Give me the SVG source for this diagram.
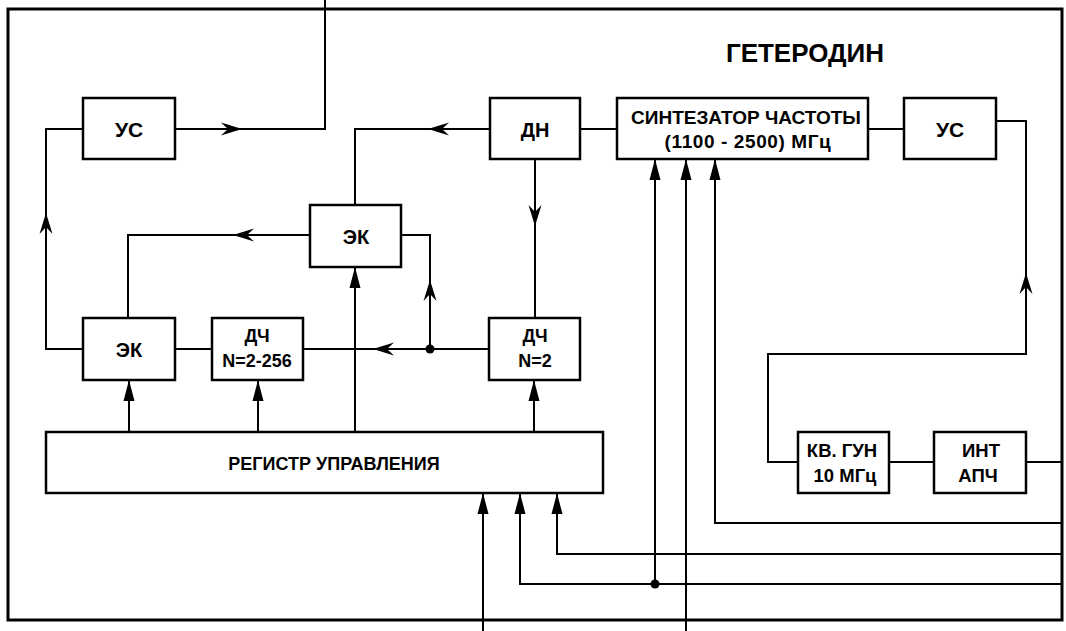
<svg xmlns="http://www.w3.org/2000/svg" width="1066" height="631" viewBox="0 0 1066 631">
<style>
.frame{fill:none;stroke:#000;stroke-width:3}
.box{fill:#fff;stroke:#000;stroke-width:2.5}
.ln{fill:none;stroke:#000;stroke-width:2}
.t{font-family:"Liberation Sans",Arial,sans-serif;font-weight:bold;fill:#000;text-anchor:middle}
.a{fill:#000}
</style>
<defs>
<path id="chev" d="M0,0 L-21,-6.5 L-14,0 L-21,6.5 Z"/>
<path id="tri" d="M0,0 L-21,-5.5 L-21,5.5 Z"/>
</defs>
<rect width="1066" height="631" fill="#fff"/>
<rect class="frame" x="8" y="9" width="1054" height="611"/>
<text class="t" x="805" y="62" font-size="26">ГЕТЕРОДИН</text>

<g id="connectors">
<path class="ln" d="M175,129 H325 V0"/>
<path class="ln" d="M83,349 H46 V129 H83"/>
<path class="ln" d="M175,349 H212"/>
<path class="ln" d="M489,349 H303"/>
<path class="ln" d="M430,349 V235 H401"/>
<path class="ln" d="M310,235 H128 V318"/>
<path class="ln" d="M490,129 H355 V205"/>
<path class="ln" d="M535,159 V318"/>
<path class="ln" d="M580,129 H617"/>
<path class="ln" d="M868,129 H904"/>
<path class="ln" d="M996,121 H1026 V354 H768 V462 H798"/>
<path class="ln" d="M889,462 H934"/>
<path class="ln" d="M1026,462 H1062"/>
<path class="ln" d="M129,432 V380"/>
<path class="ln" d="M258,432 V380"/>
<path class="ln" d="M355,432 V267"/>
<path class="ln" d="M534,432 V380"/>
<path class="ln" d="M483,631 V493"/>
<path class="ln" d="M1062,584 H520 V493"/>
<path class="ln" d="M1062,554 H557 V493"/>
<path class="ln" d="M655,584 V159"/>
<path class="ln" d="M686,631 V159"/>
<path class="ln" d="M1062,523 H715 V159"/>
<circle class="a" cx="430" cy="349" r="4.5"/>
<circle class="a" cx="655" cy="584" r="4.5"/>
<use class="a" href="#chev" transform="translate(242,129)"/>
<use class="a" href="#chev" transform="translate(46,213) rotate(-90)"/>
<use class="a" href="#chev" transform="translate(373,349) rotate(180)"/>
<use class="a" href="#chev" transform="translate(430,280) rotate(-90)"/>
<use class="a" href="#chev" transform="translate(233,235) rotate(180)"/>
<use class="a" href="#chev" transform="translate(428,129) rotate(180)"/>
<use class="a" href="#chev" transform="translate(535,226) rotate(90)"/>
<use class="a" href="#chev" transform="translate(1026,273) rotate(-90)"/>
<use class="a" href="#tri" transform="translate(129,380) rotate(-90)"/>
<use class="a" href="#tri" transform="translate(258,380) rotate(-90)"/>
<use class="a" href="#tri" transform="translate(355,267) rotate(-90)"/>
<use class="a" href="#tri" transform="translate(534,380) rotate(-90)"/>
<use class="a" href="#tri" transform="translate(483,493) rotate(-90)"/>
<use class="a" href="#tri" transform="translate(520,493) rotate(-90)"/>
<use class="a" href="#tri" transform="translate(557,493) rotate(-90)"/>
<use class="a" href="#tri" transform="translate(655,159) rotate(-90)"/>
<use class="a" href="#tri" transform="translate(686,159) rotate(-90)"/>
<use class="a" href="#tri" transform="translate(715,159) rotate(-90)"/>
</g>

<g id="us-left">
<rect class="box" x="83" y="98" width="92" height="61"/>
<text class="t" x="129" y="137" font-size="21">УС</text>
</g>
<g id="ek-bottom">
<rect class="box" x="83" y="318" width="92" height="62"/>
<text class="t" x="129" y="357" font-size="20">ЭК</text>
</g>
<g id="dch-256">
<rect class="box" x="212" y="318" width="91" height="62"/>
<text class="t" x="257" y="342" font-size="18">ДЧ</text>
<text class="t" x="257" y="367" font-size="18">N=2-256</text>
</g>
<g id="ek-middle">
<rect class="box" x="310" y="205" width="91" height="62"/>
<text class="t" x="356" y="244" font-size="20">ЭК</text>
</g>
<g id="dn">
<rect class="box" x="490" y="98" width="90" height="61"/>
<text class="t" x="535" y="137" font-size="20">ДН</text>
</g>
<g id="dch-2">
<rect class="box" x="489" y="318" width="91" height="62"/>
<text class="t" x="535" y="342" font-size="18">ДЧ</text>
<text class="t" x="535" y="367" font-size="18">N=2</text>
</g>
<g id="synth">
<rect class="box" x="617" y="98" width="251" height="61"/>
<text class="t" x="746" y="124" font-size="19">СИНТЕЗАТОР ЧАСТОТЫ</text>
<text class="t" x="748" y="148" font-size="19" letter-spacing="0.6">(1100 - 2500) МГц</text>
</g>
<g id="us-right">
<rect class="box" x="904" y="98" width="92" height="61"/>
<text class="t" x="950" y="137" font-size="21">УС</text>
</g>
<g id="register">
<rect class="box" x="46" y="432" width="557" height="61"/>
<text class="t" x="334" y="470" font-size="18">РЕГИСТР УПРАВЛЕНИЯ</text>
</g>
<g id="kv-gun">
<rect class="box" x="798" y="432" width="91" height="61"/>
<text class="t" x="842" y="457" font-size="18.5">КВ. ГУН</text>
<text class="t" x="845" y="482" font-size="18.5">10 МГц</text>
</g>
<g id="int-apch">
<rect class="box" x="934" y="432" width="92" height="61"/>
<text class="t" x="981" y="457" font-size="18.5">ИНТ</text>
<text class="t" x="978" y="482" font-size="18.5">АПЧ</text>
</g>
</svg>
